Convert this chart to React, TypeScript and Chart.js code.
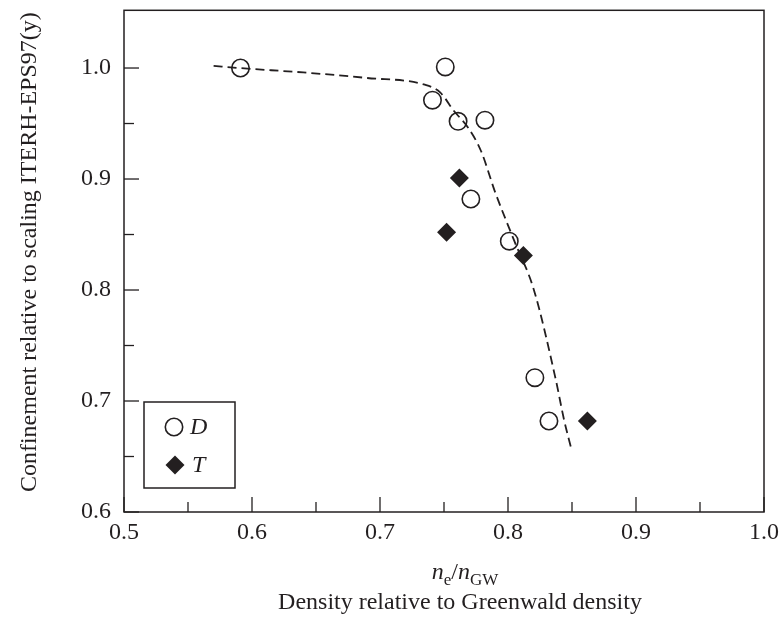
import React, { useEffect, useRef } from 'react';
import { Chart, registerables } from 'chart.js';

Chart.register(...registerables);

// ---- data ----
const D_X = [0.591, 0.751, 0.741, 0.761, 0.782, 0.771, 0.801, 0.821, 0.832];
const D_Y = [1.0, 1.001, 0.971, 0.952, 0.953, 0.882, 0.844, 0.721, 0.682];

const T_X = [0.762, 0.752, 0.812, 0.862];
const T_Y = [0.901, 0.852, 0.831, 0.682];

const FIT_X = [0.57, 0.59, 0.64, 0.69, 0.735, 0.747, 0.758, 0.769, 0.779, 0.79, 0.805, 0.82, 0.837, 0.844, 0.849];
const FIT_Y = [1.002, 1.0, 0.996, 0.991, 0.985, 0.978, 0.961, 0.946, 0.925, 0.888, 0.844, 0.801, 0.721, 0.682, 0.659];

const X_TICK_VALUES = [0.5, 0.55, 0.6, 0.65, 0.7, 0.75, 0.8, 0.85, 0.9, 0.95, 1.0];
const X_TICK_LABELS = ['0.5', '', '0.6', '', '0.7', '', '0.8', '', '0.9', '', '1.0'];
const Y_TICK_VALUES = [0.6, 0.65, 0.7, 0.75, 0.8, 0.85, 0.9, 0.95, 1.0];
const Y_TICK_LABELS = ['0.6', '', '0.7', '', '0.8', '', '0.9', '', '1.0'];

const LEGEND_LABELS = ['D', 'T'];
const Y_TITLE = 'Confinement relative to scaling ITERH-EPS97(y)';
const X_TITLE_LINE2 = 'Density relative to Greenwald density';

const INK = '#231f20';
const SERIF = '"Liberation Serif", "Times New Roman", serif';

const toPts = (xs: number[], ys: number[]) => xs.map((x, i) => ({ x, y: ys[i] }));

const framePlugin = {
  id: 'frameTicks',
  afterDraw(chart: any) {
    const { ctx, chartArea: a, scales } = chart;
    ctx.save();
    ctx.strokeStyle = INK;
    ctx.lineWidth = 1.5;
    ctx.strokeRect(a.left, a.top, a.right - a.left, a.bottom - a.top);
    // inward ticks
    ctx.lineWidth = 1.3;
    scales.x.ticks.forEach((t: any, i: number) => {
      const px = scales.x.getPixelForValue(t.value);
      const len = X_TICK_LABELS[i] ? 15 : 10;
      ctx.beginPath();
      ctx.moveTo(px, a.bottom);
      ctx.lineTo(px, a.bottom - len);
      ctx.stroke();
    });
    scales.y.ticks.forEach((t: any, i: number) => {
      const py = scales.y.getPixelForValue(t.value);
      const len = Y_TICK_LABELS[i] ? 15 : 10;
      ctx.beginPath();
      ctx.moveTo(a.left, py);
      ctx.lineTo(a.left + len, py);
      ctx.stroke();
    });

    // legend box
    const lx = a.left + 20;
    const ly = a.bottom - 110;
    ctx.lineWidth = 1.5;
    ctx.strokeRect(lx, ly, 91, 86);
    // circle marker
    ctx.beginPath();
    ctx.arc(lx + 30, ly + 25, 8.7, 0, Math.PI * 2);
    ctx.lineWidth = 1.6;
    ctx.stroke();
    // diamond marker
    const dx = lx + 31;
    const dy = ly + 63;
    const r = 9.5;
    ctx.beginPath();
    ctx.moveTo(dx, dy - r);
    ctx.lineTo(dx + r, dy);
    ctx.lineTo(dx, dy + r);
    ctx.lineTo(dx - r, dy);
    ctx.closePath();
    ctx.fillStyle = INK;
    ctx.fill();
    ctx.font = `italic 24px ${SERIF}`;
    ctx.textBaseline = 'middle';
    ctx.textAlign = 'left';
    ctx.fillText(LEGEND_LABELS[0], lx + 46, ly + 26);
    ctx.fillText(LEGEND_LABELS[1], lx + 48, ly + 64);

    // y title (rotated)
    ctx.save();
    ctx.translate(30, (a.top + a.bottom) / 2 - 9);
    ctx.rotate(-Math.PI / 2);
    ctx.font = `24px ${SERIF}`;
    ctx.textAlign = 'center';
    ctx.textBaseline = 'middle';
    ctx.fillText(Y_TITLE, 0, 0);
    ctx.restore();

    // x title (two lines, with subscripts)
    const runs = [
      { text: 'n', font: `italic 24px ${SERIF}`, dy: 0 },
      { text: 'e', font: `17px ${SERIF}`, dy: 6 },
      { text: '/', font: `24px ${SERIF}`, dy: 0 },
      { text: 'n', font: `italic 24px ${SERIF}`, dy: 0 },
      { text: 'GW', font: `17px ${SERIF}`, dy: 6 },
    ];
    ctx.fillStyle = INK;
    ctx.textAlign = 'left';
    ctx.textBaseline = 'alphabetic';
    let total = 0;
    runs.forEach((rn) => {
      ctx.font = rn.font;
      total += ctx.measureText(rn.text).width;
    });
    const cx = (a.left + a.right) / 2 + 21;
    let x = cx - total / 2;
    runs.forEach((rn) => {
      ctx.font = rn.font;
      ctx.fillText(rn.text, x, 579 + rn.dy);
      x += ctx.measureText(rn.text).width;
    });
    ctx.font = `24px ${SERIF}`;
    ctx.textAlign = 'center';
    ctx.fillText(X_TITLE_LINE2, (a.left + a.right) / 2 + 16, 609);
    ctx.restore();
  },
};

export default function App() {
  const ref = useRef<HTMLCanvasElement>(null);

  useEffect(() => {
    document.body.style.margin = '0';
    const canvas = ref.current;
    if (!canvas) return;
    const chart = new Chart(canvas, {
      type: 'scatter',
      data: {
        datasets: [
          {
            label: 'D',
            data: toPts(D_X, D_Y),
            pointStyle: 'circle',
            pointRadius: 8.7,
            pointBorderWidth: 1.6,
            pointBorderColor: INK,
            pointBackgroundColor: 'rgba(0,0,0,0)',
            showLine: false,
          },
          {
            label: 'T',
            data: toPts(T_X, T_Y),
            pointStyle: 'rectRot',
            pointRadius: 9.5,
            pointBorderWidth: 0,
            pointBackgroundColor: INK,
            pointBorderColor: INK,
            showLine: false,
          },
          {
            label: 'fit',
            data: toPts(FIT_X, FIT_Y),
            showLine: true,
            pointRadius: 0,
            borderColor: INK,
            borderWidth: 1.8,
            borderDash: [9, 5],
            cubicInterpolationMode: 'monotone',
            fill: false,
          } as any,
        ],
      },
      options: {
        responsive: false,
        animation: false,
        devicePixelRatio: 1,
        layout: { padding: { top: 7, right: 16, left: 0, bottom: 0 } },
        plugins: {
          legend: { display: false },
          tooltip: { enabled: false },
        },
        scales: {
          x: {
            type: 'linear',
            min: 0.5,
            max: 1.0,
            grid: { display: false, drawTicks: false },
            border: { display: false },
            afterBuildTicks: (scale: any) => {
              scale.ticks = X_TICK_VALUES.map((v) => ({ value: v }));
            },
            afterFit: (scale: any) => {
              scale.height = 107;
              scale.paddingLeft = 0;
              scale.paddingRight = 0;
            },
            ticks: {
              autoSkip: false,
              maxRotation: 0,
              padding: 6,
              color: INK,
              font: { family: SERIF, size: 24 },
              callback: (_v: any, i: number) => X_TICK_LABELS[i],
            },
          },
          y: {
            type: 'linear',
            min: 0.6,
            max: 1.052,
            grid: { display: false, drawTicks: false },
            border: { display: false },
            afterBuildTicks: (scale: any) => {
              scale.ticks = Y_TICK_VALUES.map((v) => ({ value: v }));
            },
            afterFit: (scale: any) => {
              scale.width = 124;
              scale.paddingTop = 0;
              scale.paddingBottom = 0;
            },
            ticks: {
              autoSkip: false,
              padding: 13,
              color: INK,
              font: { family: SERIF, size: 24 },
              callback: (_v: any, i: number) => Y_TICK_LABELS[i],
            },
            title: { display: false },
          },
        },
      },
      plugins: [framePlugin],
    });
    return () => chart.destroy();
  }, []);

  return (
    <div style={{ width: 780, height: 619 }}>
      <canvas ref={ref} width={780} height={619} style={{ display: 'block' }} />
    </div>
  );
}
